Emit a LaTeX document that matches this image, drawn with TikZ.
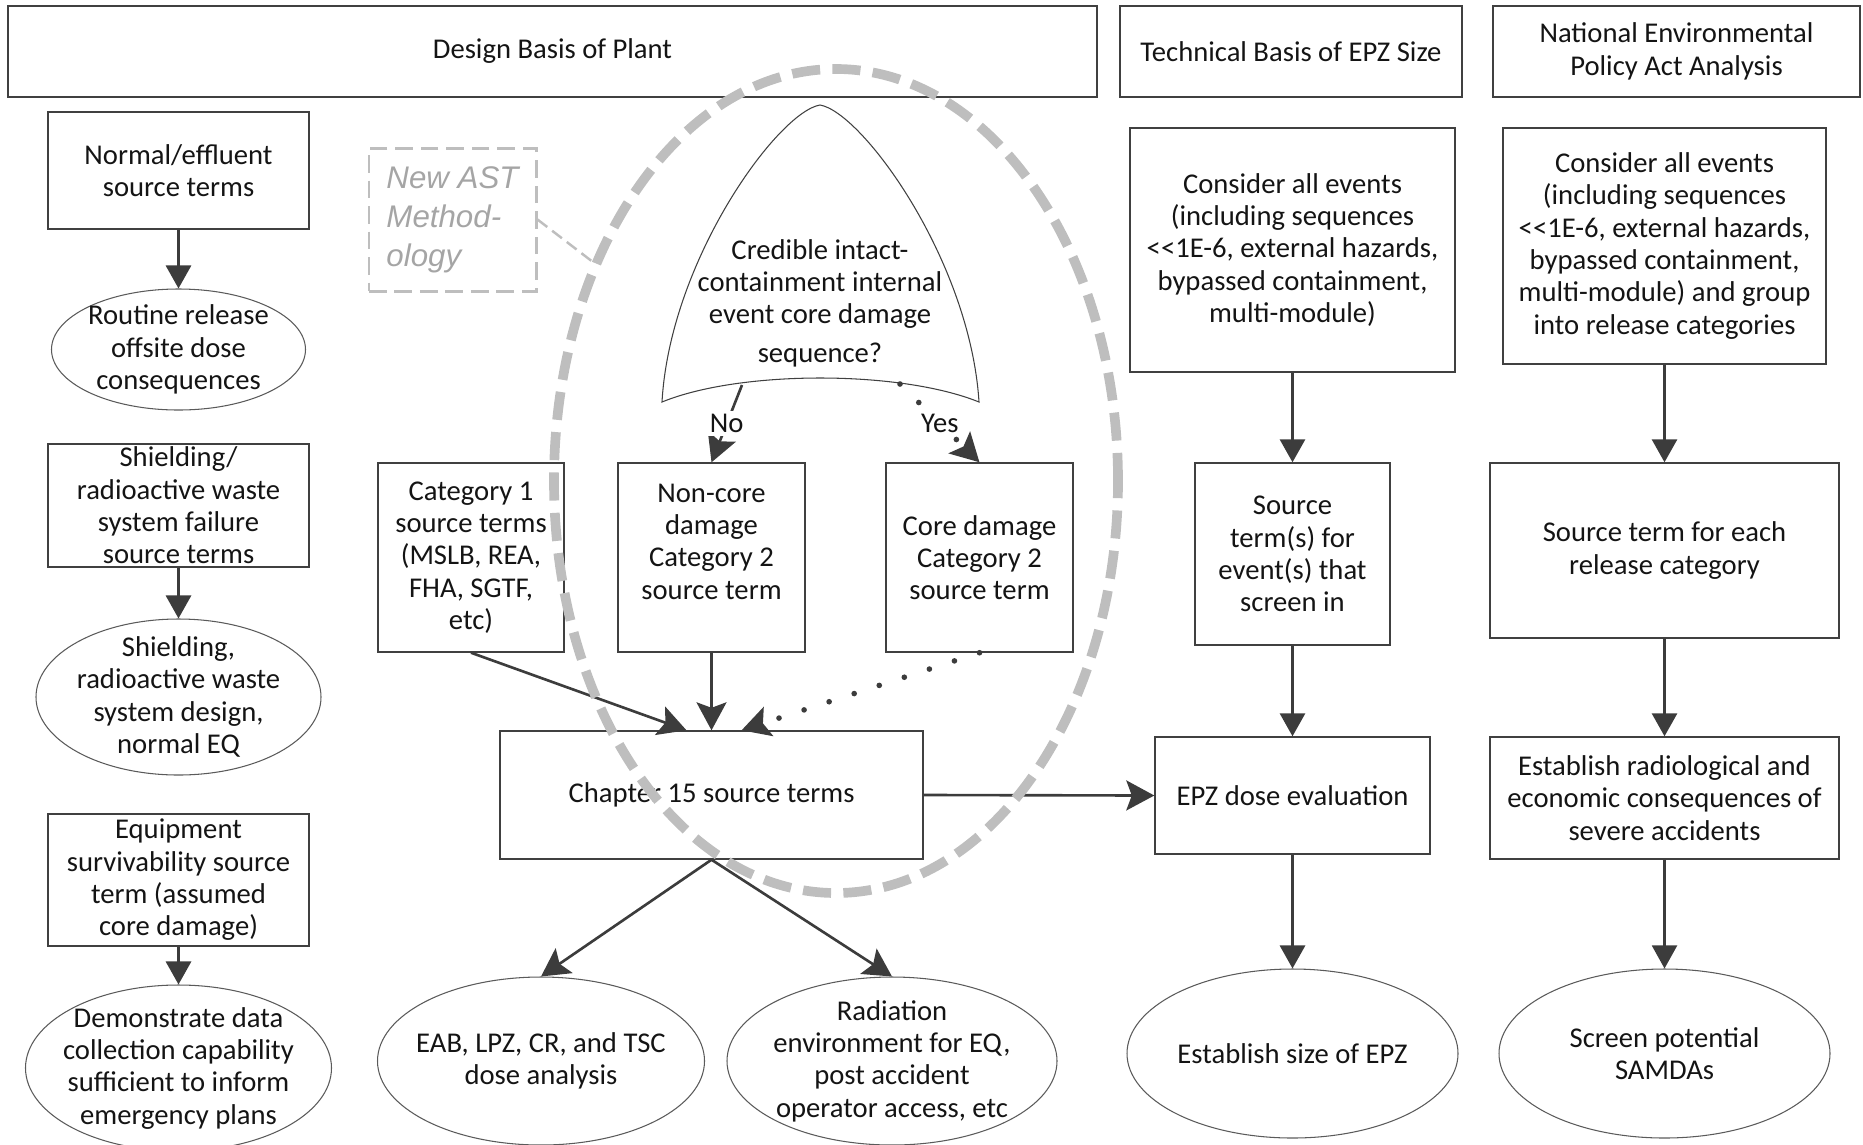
\documentclass[tikz,border=0pt]{standalone}
\usepackage{fontspec}
\setmainfont{Carlito}
\newfontfamily\astfont{Liberation Sans}
\usetikzlibrary{arrows.meta,shapes.geometric}

\definecolor{inkblack}{HTML}{141414}
\definecolor{boxgray}{HTML}{404040}
\definecolor{ovalgray}{HTML}{5A5A5A}
\definecolor{arrowgray}{HTML}{3C3C3C}
\definecolor{ringgray}{HTML}{BEBEBE}
\definecolor{astgray}{HTML}{A5A5A5}

\newcommand{\flowfont}{\fontsize{16.3pt}{18.4pt}\selectfont}
\newcommand{\astsize}{\fontsize{17.8pt}{22.2pt}\selectfont}
\def\pxu{0.2mm}

\begin{document}
\begin{tikzpicture}[
    x=0.2mm, y=-0.2mm,
    every node/.style={inner sep=0pt, text=inkblack, font=\flowfont},
    box/.style 2 args={draw=boxgray, line width=0.8pt, align=center,
        minimum width=#1*\pxu, minimum height=#2*\pxu},
    oval/.style 2 args={ellipse, draw=ovalgray, line width=0.6pt, align=center,
        inner sep=-10mm, minimum width=#1*\pxu, minimum height=#2*\pxu},
    astbox/.style 2 args={box={#1}{#2}, draw=ringgray, line width=1.7pt,
        dash pattern=on 10pt off 4.5pt, align=left,
        font=\astfont\itshape\astsize, text=astgray},
    flow/.style={draw=arrowgray, line width=1.7pt, -{Triangle[length=4.6mm,width=5mm]}},
    feed/.style={draw=arrowgray, line width=1.5pt, -{Stealth[length=5.6mm,width=6mm,inset=1.1mm]}},
    dotfeed/.style={feed, line width=3.2pt, line cap=round, dash pattern=on 0pt off 15pt},
    choice/.style={fill=white, inner sep=2pt}
]
    \useasboundingbox (0,0) rectangle (1863,1144);

    % 1. Column headers
    \node[box={1089}{91}] (hplant) at (552.5,51.5) {Design Basis of Plant};
    \node[box={342}{91}] (hepz) at (1291,51.5) {Technical Basis of EPZ Size};
    \node[box={367}{91}] (hnepa) at (1676.5,51.5) {National Environmental\\Policy Act Analysis};

    % 2. Left column
    \node[box={261}{117}] (normal) at (178.5,170.5) {Normal/effluent\\source terms};
    \node[oval={254}{121}] (routine) at (178.5,349.5) {Routine release\\offsite dose\\consequences};
    \node[box={261}{123}, inner ysep=-1mm] (shieldst) at (178.5,505.5) {Shielding/\\radioactive waste\\system failure\\source terms};
    \node[oval={285}{156}] (shieldeq) at (178.5,697) {Shielding,\\radioactive waste\\system design,\\normal EQ};
    \node[box={261}{132}] (equip) at (178.5,880) {Equipment\\survivability source\\term (assumed\\core damage)};
    \node[oval={306}{166}] (demo) at (178.5,1068) {Demonstrate data\\collection capability\\sufficient to inform\\emergency plans};

    % 3. Middle: AST decision and chapter 15
    \node[astbox={167}{143}] (newast) at (452.5,219.5) {New AST\\Method-\\ology};

    \coordinate (qapex) at (820,105);
    \coordinate (qleft) at (662,402);
    \coordinate (qright) at (979,402);
    \draw[draw=boxgray, line width=0.6pt] (qleft) .. controls (670,260) and (778,112) .. (qapex)
        .. controls (862,112) and (970,260) .. (qright)
        .. controls (900,370) and (740,370) .. (qleft) -- cycle;
    \node[align=center] (question) at (820,303) {Credible intact-\\containment internal\\event core damage\\[1.2mm]sequence?};
    \coordinate (qno) at (742,385);
    \coordinate (qyes) at (900,384);

    \node[box={186}{189}] (cat1) at (471,557.5) {Category 1\\source terms\\(MSLB, REA,\\FHA, SGTF,\\etc)};
    \node[box={187}{189}] (noncore) at (711.5,557.5) {Non-core\\damage\\Category 2\\source term\\\mbox{}};
    \node[box={187}{189}] (coredmg) at (979.5,557.5) {Core damage\\Category 2\\source term};
    \node[box={423}{128}] (ch15) at (711.5,795) {Chapter 15 source terms};
    \node[oval={327}{168}] (eab) at (541,1061) {EAB, LPZ, CR, and TSC\\dose analysis};
    \node[oval={330}{168}] (radenv) at (892,1061) {Radiation\\environment for EQ,\\post accident\\operator access, etc};

    % 4. EPZ column
    \node[box={325}{244}] (epzall) at (1292.5,250) {Consider all events\\(including sequences\\<{}<1E-6, external hazards,\\bypassed containment,\\multi-module)};
    \node[box={195}{182}] (epzsrc) at (1292.5,554) {Source\\term(s) for\\event(s) that\\screen in};
    \node[box={275}{117}] (epzdose) at (1292.5,795.5) {EPZ dose evaluation};
    \node[oval={331}{169}] (epzsize) at (1292.5,1053.5) {Establish size of EPZ};

    % 5. NEPA column
    \node[box={323}{236}] (nepaall) at (1664.5,246) {Consider all events\\(including sequences\\<{}<1E-6, external hazards,\\bypassed containment,\\multi-module) and group\\into release categories};
    \node[box={349}{175}] (nepasrc) at (1664.5,550.5) {Source term for each\\release category};
    \node[box={349}{122}] (nepacons) at (1664.5,798) {Establish radiological and\\economic consequences of\\severe accidents};
    \node[oval={331}{169}] (samda) at (1664.5,1053.5) {Screen potential\\SAMDAs};

    % 6. Arrows
    \draw[flow] (normal.south) -- (routine.north);
    \draw[flow] (shieldst.south) -- (shieldeq.north);
    \draw[flow] (equip.south) -- (demo.north);
    \draw[flow] (epzall.south) -- (epzsrc.north);
    \draw[flow] (epzsrc.south) -- (epzdose.north);
    \draw[flow] (epzdose.south) -- (epzsize.north);
    \draw[flow] (nepaall.south) -- (nepasrc.north);
    \draw[flow] (nepasrc.south) -- (nepacons.north);
    \draw[flow, line width=1.2pt] (nepacons.south) -- (samda.north);

    \draw[feed] (qno) -- (noncore.north) node[midway, choice] (nolabel) {No};
    \draw[dotfeed] (qyes) -- (coredmg.north) node[midway, choice] (yeslabel) {Yes};
    \draw[feed] (cat1.south) -- ([xshift=-25*\pxu]ch15.north);
    \draw[feed] (noncore.south) -- (ch15.north);
    \draw[dotfeed] (coredmg.south) -- ([xshift=30*\pxu]ch15.north);
    \draw[feed] (ch15.east) -- (epzdose.west);
    \draw[feed] (ch15.south) -- (eab.north);
    \draw[feed] (ch15.south) -- (radenv.north);

    % 7. New AST ring (on top)
    \node[ellipse, draw=ringgray, line width=5.5pt, dash pattern=on 16pt off 7pt,
        minimum width=564*\pxu, minimum height=824*\pxu] (astring) at (836,481) {};
    \draw[draw=ringgray, line width=1.4pt, dash pattern=on 7pt off 3.5pt] (newast.east) -- (astring.138);

\end{tikzpicture}
\end{document}
